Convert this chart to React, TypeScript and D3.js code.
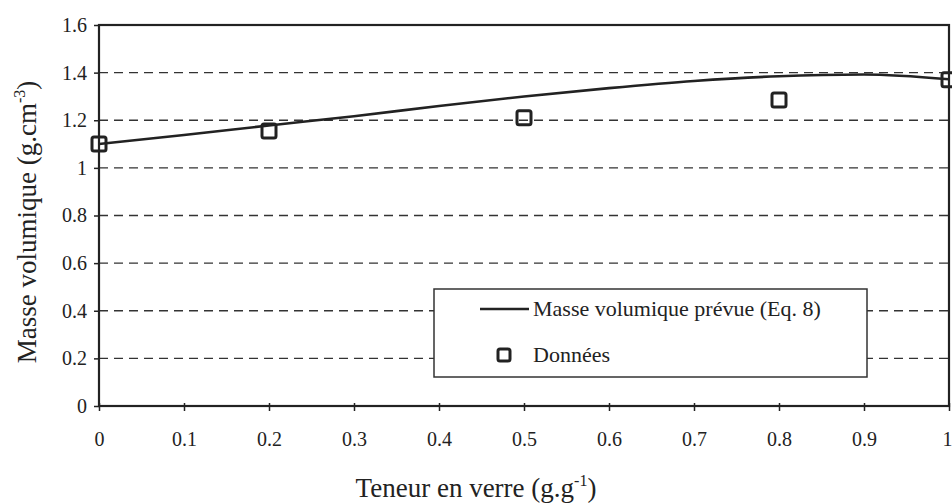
import * as d3 from "d3";
import React, { useEffect, useRef } from "react";

// glass content (g/g) and measured density
const dataX = [0, 0.2, 0.5, 0.8, 1.0];
const dataY = [1.1, 1.155, 1.21, 1.285, 1.37];

// predicted density curve (Eq. 8)
const curveX = [0, 0.1, 0.2, 0.3, 0.4, 0.5, 0.6, 0.7, 0.8, 0.9, 1.0];
const curveY = [1.1, 1.138, 1.178, 1.217, 1.26, 1.3, 1.335, 1.365, 1.385, 1.392, 1.372];

const xTicks = [0, 0.1, 0.2, 0.3, 0.4, 0.5, 0.6, 0.7, 0.8, 0.9, 1];
const yTicks = [0, 0.2, 0.4, 0.6, 0.8, 1, 1.2, 1.4, 1.6];

const W = 952;
const H = 504;
const FONT = "Liberation Serif, Tinos, Times New Roman, DejaVu Serif, serif";

function drawChart(el: SVGSVGElement) {
  const svg = d3.select(el);
  svg.selectAll("*").remove();

  const margin = { top: 25, right: 3, bottom: 98, left: 99 };
  const x = d3.scaleLinear().domain([0, 1]).range([margin.left, W - margin.right]);
  const y = d3.scaleLinear().domain([0, 1.6]).range([H - margin.bottom, margin.top]);

  // dashed gridlines
  svg
    .append("g")
    .selectAll("line")
    .data(yTicks.filter(d => d > 0 && d < 1.6))
    .join("line")
    .attr("x1", x(0))
    .attr("x2", x(1))
    .attr("y1", d => y(d))
    .attr("y2", d => y(d))
    .attr("stroke", "#333")
    .attr("stroke-width", 1.3)
    .attr("stroke-dasharray", "9,6");

  // y axis ticks + labels
  const yAxis = svg
    .append("g")
    .attr("transform", `translate(${x(0)},0)`)
    .call(d3.axisLeft(y).tickValues(yTicks).tickSize(5).tickSizeOuter(0).tickFormat(d => d3.format("")(+d)));
  yAxis.select(".domain").remove();
  yAxis.selectAll("line").attr("stroke", "#222").attr("stroke-width", 1.5);
  yAxis
    .selectAll("text")
    .style("font-family", FONT)
    .attr("font-size", 20)
    .attr("fill", "#222")
    .attr("x", -12);

  // x axis ticks + labels
  const xAxis = svg
    .append("g")
    .attr("transform", `translate(0,${y(0)})`)
    .call(d3.axisBottom(x).tickValues(xTicks).tickSize(5).tickSizeOuter(0).tickFormat(d => d3.format("")(+d)));
  xAxis.select(".domain").remove();
  xAxis.selectAll("line").attr("stroke", "#222").attr("stroke-width", 1.5).attr("y1", -3);
  xAxis
    .selectAll("text")
    .style("font-family", FONT)
    .attr("font-size", 20)
    .attr("fill", "#222")
    .attr("y", 26)
    .attr("x", d => (d === 1 ? -2 : 0));

  // plot frame
  svg
    .append("rect")
    .attr("x", x(0))
    .attr("y", y(1.6))
    .attr("width", x(1) - x(0))
    .attr("height", y(0) - y(1.6))
    .attr("fill", "none")
    .attr("stroke", "#222")
    .attr("stroke-width", 2.2);

  // predicted curve
  const line = d3
    .line<number>()
    .x((_, i) => x(curveX[i]))
    .y(d => y(d))
    .curve(d3.curveMonotoneX);
  svg
    .append("path")
    .attr("d", line(curveY))
    .attr("fill", "none")
    .attr("stroke", "#222")
    .attr("stroke-width", 2.6);

  // data squares
  const s = 14;
  svg
    .append("g")
    .selectAll("rect")
    .data(dataY)
    .join("rect")
    .attr("x", (_, i) => x(dataX[i]) - s / 2)
    .attr("y", d => y(d) - s / 2)
    .attr("width", s)
    .attr("height", s)
    .attr("rx", 2)
    .attr("fill", "none")
    .attr("stroke", "#222")
    .attr("stroke-width", 3);

  // legend
  const lg = svg.append("g");
  lg.append("rect")
    .attr("x", 434)
    .attr("y", 289)
    .attr("width", 433)
    .attr("height", 88)
    .attr("fill", "#fff")
    .attr("stroke", "#333")
    .attr("stroke-width", 1.5);
  lg.append("line")
    .attr("x1", 480)
    .attr("x2", 529)
    .attr("y1", 309)
    .attr("y2", 309)
    .attr("stroke", "#222")
    .attr("stroke-width", 2.6);
  lg.append("rect")
    .attr("x", 498)
    .attr("y", 349)
    .attr("width", 12)
    .attr("height", 12)
    .attr("rx", 2)
    .attr("fill", "none")
    .attr("stroke", "#222")
    .attr("stroke-width", 3);
  lg.append("text")
    .attr("x", 533)
    .attr("y", 316)
    .style("font-family", FONT)
    .attr("font-size", 22)
    .attr("fill", "#222")
    .text("Masse volumique prévue (Eq. 8)");
  lg.append("text")
    .attr("x", 533)
    .attr("y", 362)
    .style("font-family", FONT)
    .attr("font-size", 22)
    .attr("fill", "#222")
    .text("Données");

  // axis titles
  const xt = svg
    .append("text")
    .attr("x", 476)
    .attr("y", 497)
    .attr("text-anchor", "middle")
    .style("font-family", FONT)
    .attr("font-size", 27)
    .attr("fill", "#222");
  xt.append("tspan").text("Teneur en verre (g.g");
  xt.append("tspan").attr("dy", -11).attr("font-size", 16).text("-1");
  xt.append("tspan").attr("dy", 11).text(")");

  const yt = svg
    .append("text")
    .attr("transform", `translate(36,222) rotate(-90)`)
    .attr("text-anchor", "middle")
    .style("font-family", FONT)
    .attr("font-size", 27)
    .attr("fill", "#222");
  yt.append("tspan").text("Masse volumique (g.cm");
  yt.append("tspan").attr("dy", -11).attr("font-size", 16).text("-3");
  yt.append("tspan").attr("dy", 11).text(")");
}

export default function App() {
  const ref = useRef<SVGSVGElement>(null);
  useEffect(() => {
    if (ref.current) drawChart(ref.current);
  }, []);
  return (
    <svg
      ref={ref}
      width={W}
      height={H}
      style={{ position: "absolute", left: 0, top: 0, background: "#fff" }}
    />
  );
}
